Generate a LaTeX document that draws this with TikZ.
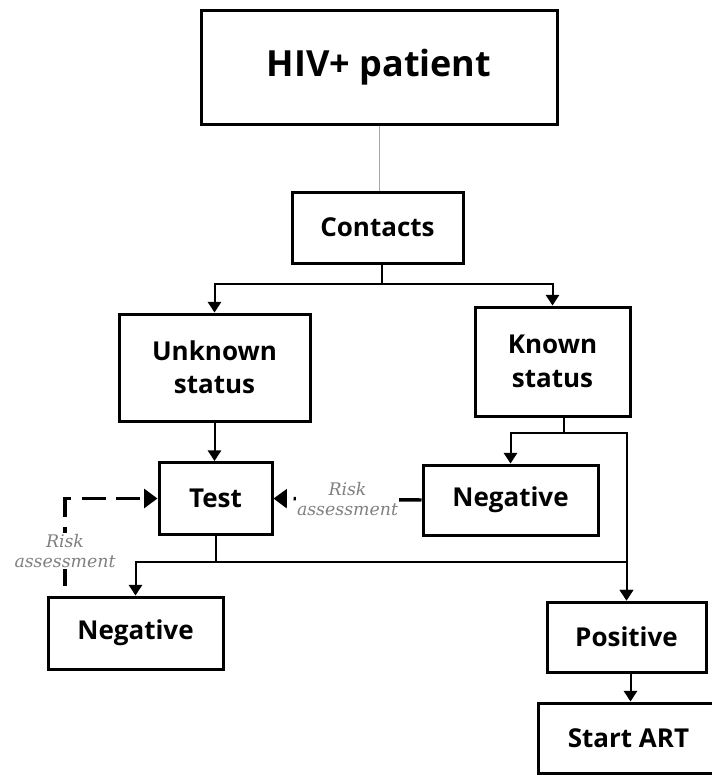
\documentclass[tikz,border=0pt]{standalone}
\usepackage{fontspec}
\setmainfont{Open Sans}
\newfontfamily\riskFont{DejaVu Serif}
\usetikzlibrary{arrows.meta}

\newcommand{\boxFont}{\fontsize{19.5}{25}\selectfont\bfseries}
\newcommand{\bigBoxFont}{\fontsize{27}{32}\selectfont\bfseries}

\tikzset{
  stepbox/.style={draw, line width=2.25pt, rectangle, inner sep=0pt, align=center, font=\boxFont},
  link/.style={line width=1.5pt, -{Triangle[length=8pt,width=10pt]}},
  risk/.style={line width=2.6pt, dash pattern=on 18pt off 8pt, -{Triangle[length=10pt,width=14pt]}},
  risklabel/.style={fill=white, inner sep=1pt, align=center, text=black!50,
    font=\riskFont\itshape\fontsize{13}{15}\selectfont}
}

\begin{document}
\begin{tikzpicture}[x=0.75pt, y=-0.75pt]
  \useasboundingbox (0,0) rectangle (712,775);

  % boxes
  \node[stepbox, font=\bigBoxFont, minimum width=267pt, minimum height=85.5pt] (patient) at (379,67) {HIV+ patient};
  \node[stepbox, minimum width=128.25pt, minimum height=53.25pt] (contacts) at (377.5,227.5) {Contacts};
  \node[stepbox, minimum width=143.25pt, minimum height=80.25pt] (unknown) at (214.5,367.5) {Unknown\\status};
  \node[stepbox, minimum width=116.25pt, minimum height=81.75pt] (known) at (552.5,361.5) {Known\\status};
  \node[stepbox, minimum width=84.75pt, minimum height=54pt] (test) at (215.5,498.5) {Test};
  \node[stepbox, minimum width=131.25pt, minimum height=52.5pt] (negRight) at (510.5,500) {Negative};
  \node[stepbox, minimum width=131.25pt, minimum height=54pt] (negLeft) at (135.5,633) {Negative};
  \node[stepbox, minimum width=119.25pt, minimum height=52.5pt] (positive) at (626.5,637) {Positive};
  % runs off the right edge
  \node[stepbox, anchor=west, minimum width=160pt, minimum height=52.5pt] (startArt) at (537,738) {Start ART\hspace*{25pt}};

  % connectors
  \draw[gray!70, line width=0.75pt] (patient.south) -- (patient.south |- contacts.north);
  \draw[link] ([xshift=3.4pt]contacts.south) -- ++(0,19) -| (unknown.north);
  \draw[link] ([xshift=3.4pt]contacts.south) -- ++(0,19) -| (known.north);
  \draw[link] (unknown.south) -- (unknown.south |- test.north);
  \draw[link] ([xshift=8.6pt]known.south) -- ++(0,15) -| (negRight.north);
  \draw[link] ([xshift=8.6pt]known.south) -- ++(0,15) -| (positive.north);
  \draw[link] (test.south) -- ++(0,26) -| (negLeft.north);
  \draw[link] (test.south) -- ++(0,26) -| (positive.north);
  \draw[link] ([xshift=3pt]positive.south) -- ([xshift=3pt]positive.south |- startArt.north);

  % risk assessment
  \coordinate (riskStart) at (65,586);
  \draw[risk] (negRight.west) -- node[risklabel] {Risk\\assessment} (test.east);
  \draw[risk] (riskStart) |- node[risklabel, pos=0.2] {Risk\\assessment} (test.west);
\end{tikzpicture}
\end{document}
